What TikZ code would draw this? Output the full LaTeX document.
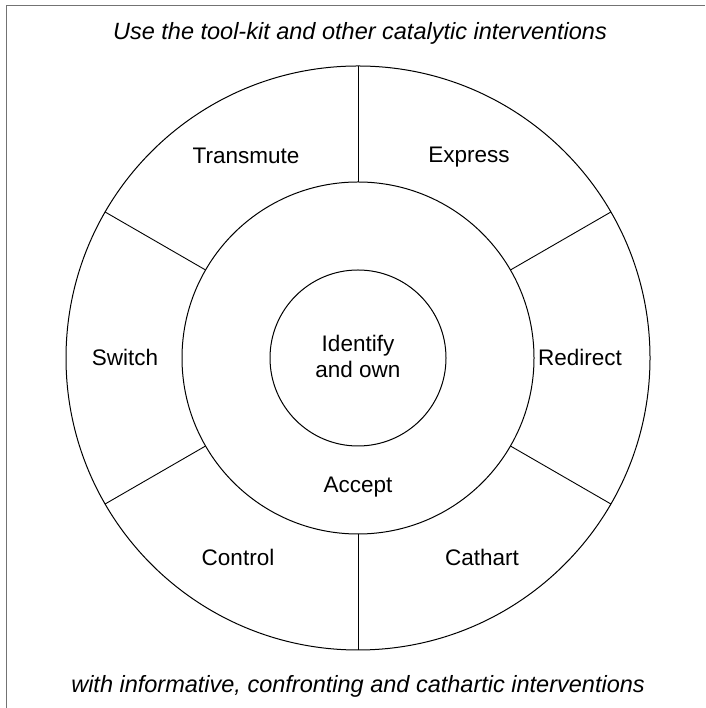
\documentclass[tikz,border=0pt]{standalone}
\usepackage{fontspec}
\setmainfont{Liberation Sans}
\begin{document}
\begin{tikzpicture}[x=1pt,y=1pt,
  ring/.style={circle, draw, line width=1pt, outer sep=0pt, inner sep=0pt},
  divider/.style={line width=0.9pt},
  lbl/.style={font=\fontsize{22.5}{26}\selectfont, inner sep=0pt, anchor=base},
  caption/.style={font=\fontsize{23.5}{28}\selectfont\itshape, inner sep=0pt, anchor=base},
  frame/.style={draw=black!55, line width=0.9pt}]
\useasboundingbox (0,0) rectangle (705,708);
\coordinate (c) at (358,350);
\coordinate (fa) at (6,0);
\coordinate (fb) at (6,703);
\coordinate (fc) at (705,703);
\draw[frame] (fa) -- (fb) -- (fc);
\node[ring, minimum size=584pt] (outer) at (c) {};
\node[ring, minimum size=352pt] (middle) at (c) {};
\node[ring, minimum size=176pt] (inner) at (c) {};
\foreach \a in {30,90,150,210,270,330}
  \draw[divider] (middle.\a) -- (outer.\a);
\node[lbl, align=center] (idown) at (358,330) {Identify\\and own};
\node[lbl] (transmute) at (246,544) {Transmute};
\node[lbl] (express) at (469,545) {Express};
\node[lbl] (switch) at (125,342) {Switch};
\node[lbl] (redirect) at (580,342) {Redirect};
\node[lbl] (control) at (238,142) {Control};
\node[lbl] (cathart) at (482,142) {Cathart};
\node[lbl] (accept) at (358,215) {Accept};
\node[caption] (top) at (360,668) {Use the tool-kit and other catalytic interventions};
\node[caption] (bottom) at (358,16) {with informative, confronting and cathartic interventions};
\end{tikzpicture}
\end{document}
